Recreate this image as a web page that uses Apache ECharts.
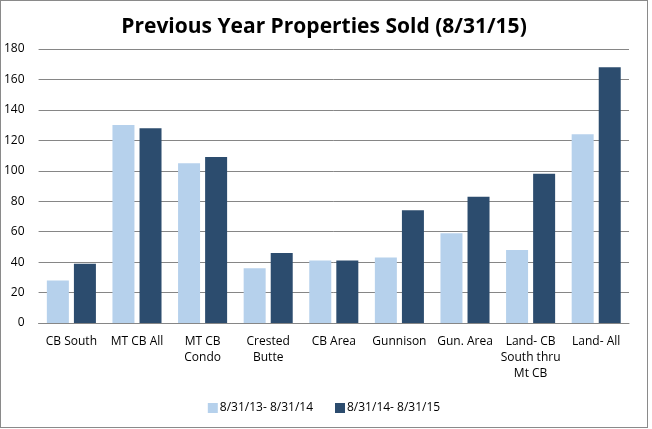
<!DOCTYPE html>
<html><head><meta charset="utf-8">
<script src="https://cdn.jsdelivr.net/npm/echarts@6/dist/echarts.min.js"></script>
<style>
html,body{margin:0;padding:0;background:#fff;}
#c{position:absolute;left:0;top:0;width:646px;height:426px;border:1px solid #8a8a8a;}
</style></head>
<body><div id="c"></div>
<script>
const categories = ["CB South","MT CB All","MT CB\nCondo","Crested\nButte","CB Area","Gunnison","Gun. Area","Land- CB\nSouth thru\nMt CB","Land- All"];
const seriesNames = ["8/31/13- 8/31/14","8/31/14- 8/31/15"];
const prevYear = [28,130,105,36,41,43,59,48,124];
const currYear = [39,128,109,46,41,74,83,98,168];
const yTicks = {min:0,max:180,interval:20};

const chart = echarts.init(document.getElementById('c'), null, {renderer:'canvas'});
const font = '"Open Sans", "Noto Sans", sans-serif';
chart.setOption({
  animation:false,
  backgroundColor:'#fff',
  title:{text:'Previous Year Properties Sold (8/31/15)',left:'center',top:11,
    textStyle:{fontFamily:font,fontSize:21,fontWeight:'bold',color:'#000'}},
  grid:{left:33,right:18,top:48,bottom:104,containLabel:false},
  legend:{bottom:8,left:'center',itemWidth:10,itemHeight:10,itemGap:22,icon:'rect',
    textStyle:{fontFamily:font,fontSize:12,color:'#000',padding:[0,0,0,-3]}},
  xAxis:{type:'category',data:categories,
    axisLine:{lineStyle:{color:'#868686',width:1}},
    axisTick:{show:false},
    axisLabel:{interval:0,fontFamily:font,fontSize:12,color:'#000',lineHeight:16,margin:11}},
  yAxis:{type:'value',min:yTicks.min,max:yTicks.max,interval:yTicks.interval,
    axisLine:{show:false},axisTick:{show:false},
    splitLine:{lineStyle:{color:'#868686',width:1}},
    axisLabel:{fontFamily:font,fontSize:12,color:'#000',margin:14}},
  series:[
    {name:seriesNames[0],type:'bar',data:prevYear,barWidth:22,barGap:'23%',itemStyle:{color:'#B6D1EC'}},
    {name:seriesNames[1],type:'bar',data:currYear,barWidth:22,barGap:'23%',itemStyle:{color:'#2C4C6E'}}
  ]
});
</script></body></html>
